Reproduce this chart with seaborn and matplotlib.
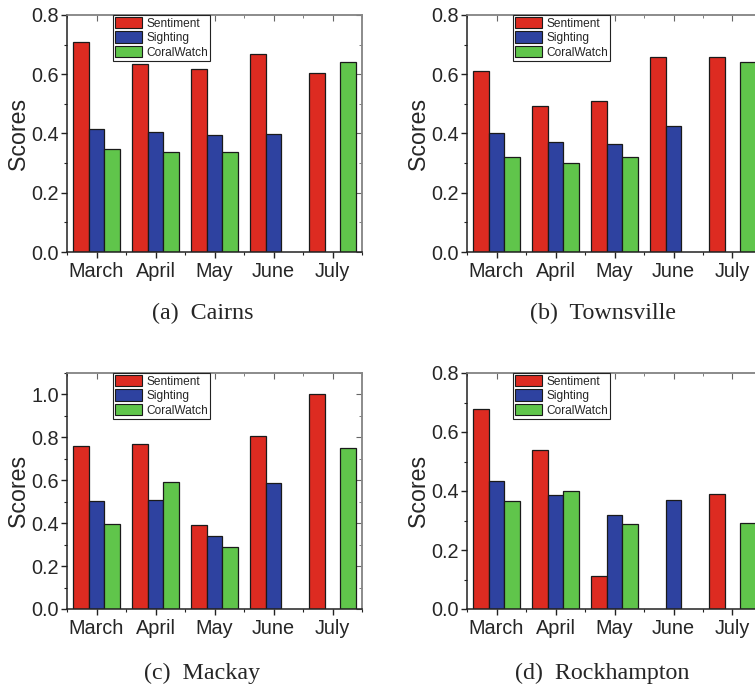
import numpy as np
import pandas as pd
import matplotlib
matplotlib.use("Agg")
import matplotlib.pyplot as plt
from matplotlib.ticker import MultipleLocator, FixedLocator
from matplotlib.patches import Patch
import seaborn as sns

months = ["March", "April", "May", "June", "July"]
sources = ["Sentiment", "Sighting", "CoralWatch"]

cairns_sentiment = [0.710, 0.634, 0.617, 0.669, 0.603]
cairns_sighting = [0.415, 0.406, 0.394, 0.397, None]
cairns_coral = [0.346, 0.339, 0.338, None, 0.643]

townsville_sentiment = [0.612, 0.492, 0.510, 0.659, 0.659]
townsville_sighting = [0.403, 0.372, 0.364, 0.426, None]
townsville_coral = [0.322, 0.302, 0.319, None, 0.643]

mackay_sentiment = [0.760, 0.767, 0.392, 0.808, 1.000]
mackay_sighting = [0.504, 0.507, 0.340, 0.586, None]
mackay_coral = [0.397, 0.594, 0.291, None, 0.749]

rock_sentiment = [0.678, 0.540, 0.112, None, 0.391]
rock_sighting = [0.434, 0.386, 0.320, 0.368, None]
rock_coral = [0.366, 0.400, 0.288, None, 0.292]

captions = ["(a)  Cairns", "(b)  Townsville", "(c)  Mackay", "(d)  Rockhampton"]
ylims = [0.8, 0.8, 1.1, 0.8]

colors = ["#DD2B21", "#2E42A0", "#60C54B"]

sns.set_style("ticks")
plt.rcParams["font.family"] = ["Liberation Sans", "DejaVu Sans"]

W, H = 755, 689
fig = plt.figure(figsize=(W / 100, H / 100), dpi=100)

def make_df(s, g, c):
    rows = []
    for src, vals in zip(sources, [s, g, c]):
        for m, v in zip(months, vals):
            rows.append({"month": m, "source": src, "score": np.nan if v is None else v})
    return pd.DataFrame(rows).dropna()

datasets = [
    make_df(cairns_sentiment, cairns_sighting, cairns_coral),
    make_df(townsville_sentiment, townsville_sighting, townsville_coral),
    make_df(mackay_sentiment, mackay_sighting, mackay_coral),
    make_df(rock_sentiment, rock_sighting, rock_coral),
]

# axes boxes in pixels: left, top, right, bottom
boxes = [(67, 15, 362, 252), (467, 15, 762, 252),
         (67, 373, 362, 609), (467, 373, 762, 609)]
caption_y = [313, 313, 673, 673]

for i, (df, box, cap, ymax) in enumerate(zip(datasets, boxes, captions, ylims)):
    l, t, r, b = box
    ax = fig.add_axes([l / W, 1 - b / H, (r - l) / W, (b - t) / H])
    sns.barplot(data=df, x="month", y="score", hue="source", order=months,
                hue_order=sources, palette=colors, edgecolor="#1a1a1a",
                linewidth=0.9, width=0.8, saturation=1, ax=ax, legend=False)
    ax.set_xlim(-0.5, 4.5)
    ax.set_ylim(0, ymax)
    ax.yaxis.set_major_locator(MultipleLocator(0.2))
    ax.yaxis.set_minor_locator(MultipleLocator(0.1))
    ax.xaxis.set_minor_locator(FixedLocator(np.arange(-0.5, 5.0, 1.0)))
    ax.yaxis.set_major_formatter(matplotlib.ticker.FormatStrFormatter("%.1f"))
    ax.set_xlabel("")
    ax.set_ylabel("Scores", fontsize=16.7, labelpad=1)
    ax.tick_params(axis="both", which="major", direction="out", length=4,
                   width=1, labelsize=14.3, color="#222222")
    ax.tick_params(axis="both", which="minor", direction="out", length=2.5,
                   width=0.8, color="#222222")
    ax.tick_params(axis="x", which="major", pad=3)
    ax.tick_params(axis="y", which="major", pad=2)
    for side in ["left", "bottom"]:
        ax.spines[side].set_color("#222222")
        ax.spines[side].set_linewidth(1.1)
    for side in ["top", "right"]:
        ax.spines[side].set_visible(True)
        ax.spines[side].set_color("#888888")
        ax.spines[side].set_linewidth(1.1)
    # mirrored inward ticks on top/right
    secx = ax.secondary_xaxis("top")
    secx.set_xticks(range(5))
    secx.xaxis.set_minor_locator(FixedLocator(np.arange(-0.5, 5.0, 1.0)))
    secx.tick_params(which="major", direction="in", length=4, color="#666666", labeltop=False)
    secx.tick_params(which="minor", direction="in", length=2.5, color="#666666")
    secx.spines["top"].set_color("#888888")
    secx.spines["top"].set_linewidth(1.1)
    secy = ax.secondary_yaxis("right")
    secy.yaxis.set_major_locator(MultipleLocator(0.2))
    secy.yaxis.set_minor_locator(MultipleLocator(0.1))
    secy.tick_params(which="major", direction="in", length=4, color="#666666", labelright=False)
    secy.tick_params(which="minor", direction="in", length=2.5, color="#666666")
    secy.spines["right"].set_color("#888888")
    secy.spines["right"].set_linewidth(1.1)

    handles = [Patch(facecolor=c, edgecolor="#1a1a1a", linewidth=0.8) for c in colors]
    leg = ax.legend(handles, sources, loc="upper left", bbox_to_anchor=(0.155, 1.0),
                    borderaxespad=0, fontsize=8.6, handlelength=2.3, handleheight=1.1,
                    labelspacing=0.15, handletextpad=0.35, borderpad=0.15,
                    fancybox=False, framealpha=1, edgecolor="#222222")
    leg.get_frame().set_linewidth(0.8)

    cx = (l + r) / 2 - 12
    fig.text(cx / W, 1 - caption_y[i] / H, cap, ha="center", va="center",
             fontsize=17.3, family=["Liberation Serif", "DejaVu Serif"])

fig.savefig("out.png", dpi=100)
